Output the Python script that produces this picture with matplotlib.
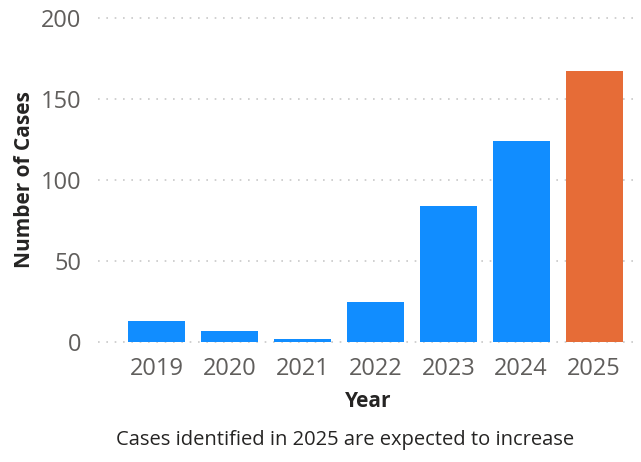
import matplotlib
matplotlib.use("Agg")
import matplotlib.pyplot as plt

years = ["2019", "2020", "2021", "2022", "2023", "2024", "2025"]
cases = [13, 7, 2, 25, 84, 124, 167]
colors = ["#118DFF"] * 6 + ["#E66C37"]
yticks = [0, 50, 100, 150, 200]

plt.rcParams['font.family'] = ['Open Sans', 'DejaVu Sans']

fig = plt.figure(figsize=(6.41, 4.62), dpi=100)
ax = fig.add_axes([98/641, (462-342)/462, (638-98)/641, (342-18)/462])

x = list(range(len(years)))
ax.bar(x, cases, width=0.78, color=colors, zorder=3)
ax.set_ylim(0, 200)
ax.set_xlim(-0.8, 6.6)
ax.set_yticks(yticks)
ax.set_xticks(x)
ax.set_xticklabels(years)
for y in yticks:
    ax.axhline(y, color="#C8C8C8", linestyle=(0, (1, 4)), linewidth=1.2, zorder=1, clip_on=False)
for s in ax.spines.values():
    s.set_visible(False)
ax.tick_params(axis='both', length=0, labelsize=17, labelcolor="#605E5C")
ax.tick_params(axis='y', pad=12)
ax.tick_params(axis='x', pad=11)
ax.set_ylabel("Number of Cases", fontsize=15, fontweight='bold', color="#252423", labelpad=4)
ax.set_xlabel("Year", fontsize=15, fontweight='bold', color="#252423", labelpad=7)
fig.text(345/641, 1 - 440/462, "Cases identified in 2025 are expected to increase",
         ha='center', va='center', fontsize=14.5, color="#252423")
fig.savefig("out.png", dpi=100)
